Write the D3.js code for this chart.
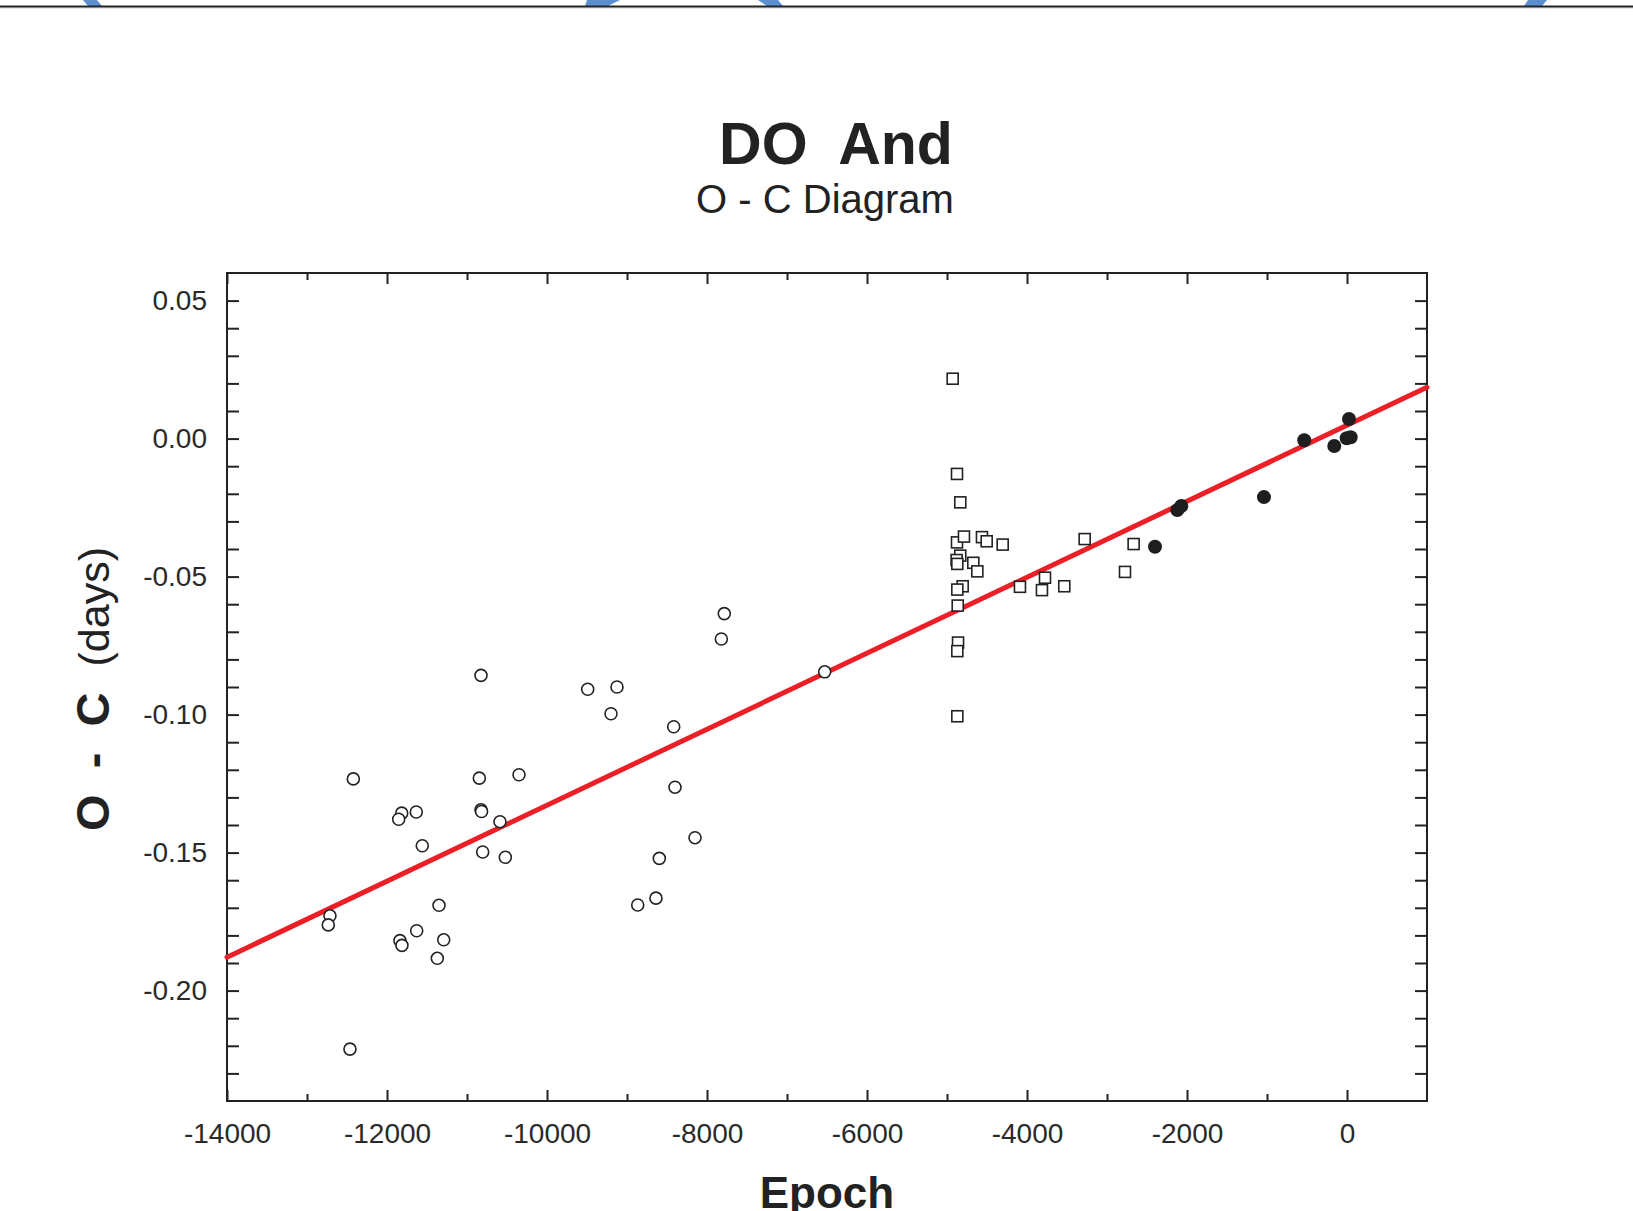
<!DOCTYPE html>
<html>
<head>
<meta charset="utf-8">
<script src="https://cdn.jsdelivr.net/npm/d3@7"></script>
<style>
  body { margin: 0; background: #fff; }
  text { font-family: "Liberation Sans", Arial, sans-serif; }
</style>
</head>
<body>
<div class="oc-chart"></div>
<script>
// open circles (visual / photographic timings)
const openPts = [
  [-10825, -0.0858], [-9491, -0.0908], [-12421, -0.1233], [-10846, -0.1230],
  [-10350, -0.1218], [-11816, -0.1357], [-11854, -0.1379], [-11634, -0.1353],
  [-10825, -0.1345], [-10818, -0.1351], [-10588, -0.1388], [-11559, -0.1475],
  [-10804, -0.1498], [-10521, -0.1517], [-11350, -0.1691], [-12713, -0.1729],
  [-12734, -0.1762], [-11629, -0.1783], [-11838, -0.1819], [-11813, -0.1836],
  [-11291, -0.1816], [-11371, -0.1883], [-12463, -0.2212], [-7784, -0.0634],
  [-7821, -0.0726], [-6529, -0.0845], [-9125, -0.0900], [-9200, -0.0997],
  [-8416, -0.1044], [-8400, -0.1263], [-8150, -0.1446], [-8596, -0.1521],
  [-8638, -0.1665], [-8866, -0.1690]
];
// open squares
const squarePts = [
  [-4929, 0.0217], [-4875, -0.0128], [-4834, -0.0231], [-4875, -0.0376],
  [-4788, -0.0355], [-4563, -0.0357], [-4504, -0.0372], [-4304, -0.0384],
  [-4834, -0.0424], [-4880, -0.0440], [-4871, -0.0454], [-4671, -0.0450],
  [-4621, -0.0481], [-4088, -0.0537], [-3775, -0.0504], [-3813, -0.0549],
  [-3534, -0.0535], [-3279, -0.0364], [-2667, -0.0382], [-2775, -0.0483],
  [-4804, -0.0535], [-4871, -0.0547], [-4866, -0.0605], [-4862, -0.0739],
  [-4871, -0.0770], [-4871, -0.1006]
];
// filled circles (CCD / recent)
const filledPts = [
  [-2400, -0.0392], [-2121, -0.0259], [-2071, -0.0244], [-1038, -0.0212],
  [-534, -0.0006], [-159, -0.0027], [25, 0.0071], [-4, 0.0001], [46, 0.0005]
];
// linear fit ends
const fitLine = [[-14000, -0.1879], [1000, 0.0186]];

const xMajor = [-14000, -12000, -10000, -8000, -6000, -4000, -2000, 0];
const yMajor = [0.05, 0.00, -0.05, -0.10, -0.15, -0.20];

// cut-off bits of the graphic above
const topArcs = [
  [[83, 0], [97, 0], [102, 6], [88, 6]],
  [[587, 0], [620, 0], [608, 6], [585, 6]],
  [[758, 0], [778, 0], [783, 6], [767, 6]],
  [[1528, 0], [1547, 0], [1542, 6], [1524, 6]]
];

const W = 1633, H = 1211;
const margin = {left: 227, right: 206, top: 273, bottom: 110};
const width = W - margin.left - margin.right;
const height = H - margin.top - margin.bottom;

const svg = d3.select(".oc-chart").append("svg")
  .attr("width", W)
  .attr("height", H);

svg.append("rect").attr("width", W).attr("height", H).attr("fill", "#fff");

svg.selectAll("polygon.arc")
  .data(topArcs)
  .enter()
  .append("polygon")
  .attr("points", d => d.map(p => p.join(",")).join(" "))
  .attr("fill", "#5b8fd0");

svg.append("line").attr("x1", 0).attr("x2", W).attr("y1", 8).attr("y2", 8)
  .attr("stroke", "#d0d0d0").attr("stroke-width", 1);
svg.append("line").attr("x1", 0).attr("x2", W).attr("y1", 6.5).attr("y2", 6.5)
  .attr("stroke", "#252525").attr("stroke-width", 2);

const g = svg.append("g")
  .attr("transform", `translate(${margin.left}, ${margin.top})`);

const xScale = d3.scaleLinear().domain([-14000, 1000]).range([0, width]);
const yScale = d3.scaleLinear().domain([-0.24, 0.06]).range([height, 0]);

const xMinor = d3.range(-13000, 1000, 2000);
const yTicks = d3.range(-23, 6).map(d => d / 100);

// axes: ticks inward on all four sides
const styleAxis = sel => {
  sel.select(".domain").remove();
  sel.selectAll("line").attr("stroke", "#222").attr("stroke-width", 2);
  sel.selectAll("text").attr("fill", "#2a2a2a").style("font-size", "28px");
};

g.append("g").attr("transform", `translate(0, ${height})`)
  .call(d3.axisBottom(xScale).tickValues(xMajor).tickSizeInner(-11).tickSizeOuter(0)
    .tickPadding(22).tickFormat(d3.format("d")))
  .call(styleAxis);
g.append("g").attr("transform", `translate(0, ${height})`)
  .call(d3.axisBottom(xScale).tickValues(xMinor).tickSizeInner(-7).tickSizeOuter(0).tickFormat(""))
  .call(styleAxis);
g.append("g")
  .call(d3.axisTop(xScale).tickValues(xMajor).tickSizeInner(-11).tickSizeOuter(0).tickFormat(""))
  .call(styleAxis);
g.append("g")
  .call(d3.axisTop(xScale).tickValues(xMinor).tickSizeInner(-7).tickSizeOuter(0).tickFormat(""))
  .call(styleAxis);

g.append("g")
  .call(d3.axisLeft(yScale).tickValues(yTicks).tickSizeInner(-12).tickSizeOuter(0)
    .tickPadding(20).tickFormat(d => yMajor.some(v => Math.abs(v - d) < 1e-9) ? d3.format(".2f")(d) : ""))
  .call(styleAxis);
g.append("g").attr("transform", `translate(${width}, 0)`)
  .call(d3.axisRight(yScale).tickValues(yTicks).tickSizeInner(-12).tickSizeOuter(0).tickFormat(""))
  .call(styleAxis);

// the tick labels use a plain "-" like the source
g.selectAll("text").each(function() {
  const t = d3.select(this);
  t.text(t.text().replace("\u2212", "-"));
});

g.append("rect")
  .attr("width", width).attr("height", height)
  .attr("fill", "none").attr("stroke", "#222").attr("stroke-width", 2);

// fit
g.append("line")
  .attr("x1", xScale(fitLine[0][0])).attr("y1", yScale(fitLine[0][1]))
  .attr("x2", xScale(fitLine[1][0])).attr("y2", yScale(fitLine[1][1]))
  .attr("stroke", "#ec1f27").attr("stroke-width", 5).attr("stroke-linecap", "round");

g.selectAll("circle.open")
  .data(openPts)
  .enter()
  .append("circle")
  .attr("class", "open")
  .attr("cx", d => xScale(d[0]))
  .attr("cy", d => yScale(d[1]))
  .attr("r", 6)
  .attr("fill", "#fff").attr("stroke", "#222").attr("stroke-width", 1.6);

g.selectAll("rect.sq")
  .data(squarePts)
  .enter()
  .append("rect")
  .attr("class", "sq")
  .attr("x", d => xScale(d[0]) - 5.5)
  .attr("y", d => yScale(d[1]) - 5.5)
  .attr("width", 11).attr("height", 11)
  .attr("fill", "#fff").attr("stroke", "#222").attr("stroke-width", 1.6);

g.selectAll("circle.filled")
  .data(filledPts)
  .enter()
  .append("circle")
  .attr("class", "filled")
  .attr("cx", d => xScale(d[0]))
  .attr("cy", d => yScale(d[1]))
  .attr("r", 7)
  .attr("fill", "#1e1e1e");

// titles
const cx = margin.left + width / 2;
svg.append("text")
  .attr("x", cx + 9).attr("y", 164)
  .attr("text-anchor", "middle")
  .style("font-size", "59px").style("font-weight", "bold").style("white-space", "pre")
  .attr("fill", "#222")
  .text("DO  And");
svg.append("text")
  .attr("x", cx - 2).attr("y", 213)
  .attr("text-anchor", "middle")
  .style("font-size", "40px")
  .attr("fill", "#222")
  .text("O - C Diagram");

svg.append("text")
  .attr("x", cx).attr("y", 1208)
  .attr("text-anchor", "middle")
  .style("font-size", "44px").style("font-weight", "bold")
  .attr("fill", "#222")
  .text("Epoch");

const yl = svg.append("text")
  .attr("transform", `translate(109, ${margin.top + height / 2 + 2}) rotate(-90)`)
  .attr("text-anchor", "middle")
  .style("white-space", "pre")
  .attr("fill", "#222");
yl.append("tspan").style("font-size", "47px").style("font-weight", "bold").text("O  -  C  ");
yl.append("tspan").style("font-size", "43px").text("(days)");
</script>
</body>
</html>
